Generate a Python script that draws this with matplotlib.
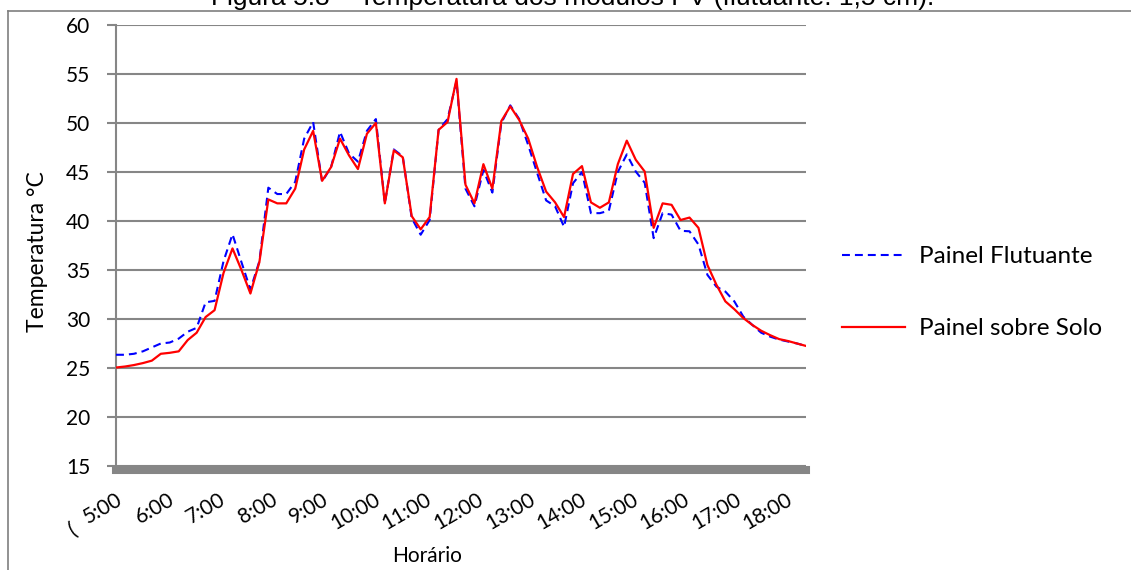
import numpy as np
import matplotlib
matplotlib.use('Agg')
import matplotlib.pyplot as plt
from matplotlib.lines import Line2D

# temperaturas (a cada ~10 min, 5:00 -> 18:00)
painel_flutuante = [26.35, 26.35, 26.45, 26.7, 27.1, 27.5, 27.6, 28.0, 28.7, 29.1,
                    31.7, 31.85, 35.9, 38.65, 35.8, 33.0, 35.9, 43.4, 42.75, 42.75,
                    44.0, 48.4, 50.1, 44.0, 45.5, 49.1, 46.9, 46.05, 49.2, 50.4,
                    41.8, 47.3, 46.6, 40.3, 38.6, 40.1, 49.3, 50.4, 54.3, 43.3,
                    41.5, 45.2, 42.9, 50.0, 51.8, 50.4, 47.75, 44.9, 42.1, 41.5,
                    39.4, 43.85, 45.0, 40.8, 40.8, 41.05, 45.0, 46.8, 45.05, 43.9,
                    38.25, 40.8, 40.65, 39.0, 38.95, 37.6, 34.5, 33.3, 32.8, 31.8,
                    30.25, 29.4, 28.6, 28.2, 27.9, 27.7, 27.5, 27.25]
painel_solo = [25.05, 25.15, 25.3, 25.5, 25.75, 26.45, 26.55, 26.7, 27.85, 28.6,
               30.2, 30.9, 34.7, 37.2, 35.0, 32.6, 35.8, 42.2, 41.8, 41.8,
               43.3, 47.3, 49.2, 44.1, 45.5, 48.4, 46.7, 45.3, 48.9, 50.0,
               41.8, 47.2, 46.5, 40.5, 39.15, 40.4, 49.3, 50.1, 54.5, 43.7,
               41.8, 45.8, 43.3, 50.2, 51.7, 50.3, 48.4, 45.5, 43.0, 41.9,
               40.4, 44.8, 45.6, 41.9, 41.35, 41.9, 45.8, 48.2, 46.25, 45.05,
               39.3, 41.8, 41.65, 40.1, 40.35, 39.3, 35.5, 33.5, 31.8, 31.0,
               30.1, 29.4, 28.8, 28.35, 27.95, 27.75, 27.5, 27.25]
horas = ['5:00', '6:00', '7:00', '8:00', '9:00', '10:00', '11:00', '12:00',
         '13:00', '14:00', '15:00', '16:00', '17:00', '18:00']
y_ticks = [15, 20, 25, 30, 35, 40, 45, 50, 55, 60]

W, H = 1131, 570
cinza = '#868686'
fonte = 'Lato'

fig = plt.figure(figsize=(W / 100, H / 100), dpi=100)
ax = fig.add_axes([116 / W, 1 - 466 / H, 690 / W, 441 / H])

x = np.arange(len(painel_solo))
ax.plot(x, painel_flutuante, color='#0000ff', lw=1.5, dashes=(3.8, 2.4),
        label='Painel Flutuante', zorder=3)
ax.plot(x, painel_solo, color='#ff0000', lw=1.6, label='Painel sobre Solo', zorder=4)

ax.set_xlim(0, len(painel_solo) - 1)
ax.set_ylim(15, 60)

# spines primeiro (set_position recria os ticks)
for s in ['top', 'right']:
    ax.spines[s].set_visible(False)
ax.spines['left'].set_color(cinza)
ax.spines['left'].set_linewidth(1.5)
ax.spines['bottom'].set_color(cinza)
ax.spines['bottom'].set_linewidth(5.8)
ax.spines['bottom'].set_position(('outward', 2.9))

ax.tick_params(axis='x', length=0, pad=14)
ax.tick_params(axis='y', direction='out', length=6.5, width=1.5, color=cinza, pad=12)

ax.set_yticks(y_ticks)
ax.set_yticklabels([str(v) for v in y_ticks], fontsize=15, family=fonte)

# rotulos das horas espalhados de forma uniforme (como no Excel)
pos_horas = np.linspace(0.0, 5.75 * (len(horas) - 1), len(horas))
ax.set_xticks(pos_horas)
ax.set_xticklabels(horas, rotation=30, rotation_mode='anchor', ha='right', va='top',
                   fontsize=15, family=fonte)

ax.yaxis.grid(True, color=cinza, lw=1.5)
ax.set_axisbelow(True)

# rotulo cortado a esquerda
fig.text(73 / W, 1 - 530 / H, '(', rotation=30, fontsize=15, family=fonte,
         ha='center', va='center')

fig.text(38 / W, 1 - 252 / H, 'Temperatura °C', rotation=90, fontsize=16.5,
         family=fonte, ha='center', va='center')
fig.text(427 / W, 1 - 556 / H, 'Horário', fontsize=15, family=fonte,
         ha='center', va='center')

ax.legend(loc='upper left', bbox_to_anchor=(842 / W, 1 - 246 / H),
          bbox_transform=fig.transFigure, frameon=False, borderpad=0,
          borderaxespad=0, handlelength=2.6, handletextpad=0.55,
          labelspacing=2.1, prop={'family': fonte, 'size': 17.5})

# titulo cortado no topo e moldura
fig.text(573 / W, 1 - 5.5 / H, 'Figura 5.8 – Temperatura dos módulos PV (flutuante: 1,5 cm).',
         ha='center', va='baseline', fontsize=19, family='Liberation Sans')
fig.add_artist(Line2D([8 / W, 1], [1 - 10.7 / H] * 2, color='#7f7f7f', lw=1.2))
fig.add_artist(Line2D([8 / W] * 2, [0, 1 - 10.7 / H], color='#7f7f7f', lw=1.2))

fig.savefig('out.png', dpi=100)
